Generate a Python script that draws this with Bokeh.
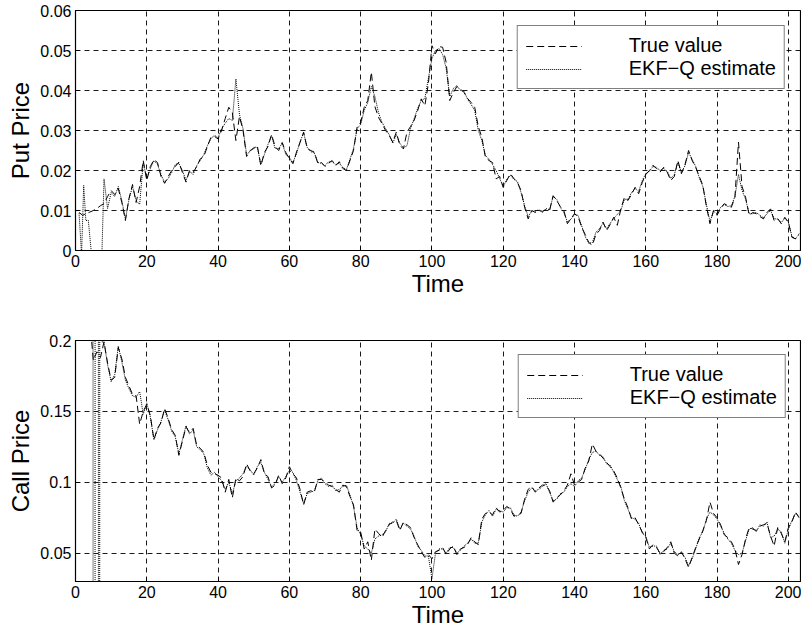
from bokeh.plotting import figure
from bokeh.layouts import column
from bokeh.models import Range1d, FixedTicker, Legend, LegendItem
from bokeh.embed import file_html
from bokeh.resources import INLINE

# ---------------- data ----------------
x_ticks = [0, 20, 40, 60, 80, 100, 120, 140, 160, 180, 200]
x_tick_labels = ["0", "20", "40", "60", "80", "100", "120", "140", "160", "180", "200"]
put_ticks = [0, 0.01, 0.02, 0.03, 0.04, 0.05, 0.06]
put_tick_labels = ["0", "0.01", "0.02", "0.03", "0.04", "0.05", "0.06"]
call_ticks = [0.05, 0.1, 0.15, 0.2]
call_tick_labels = ["0.05", "0.1", "0.15", "0.2"]
series_names = ["True value", "EKF\u2212Q estimate"]

put_true = [
    0.0095, 0.0088, 0.0092, 0.0096, 0.0100, 0.0105, 0.0112, 0.0117, 0.0135, 0.0150,
    0.0140, 0.0155, 0.0120, 0.0075, 0.0130, 0.0165, 0.0120, 0.0160, 0.0225, 0.0175,
    0.0210, 0.0227, 0.0220, 0.0185, 0.0168, 0.0185, 0.0200, 0.0210, 0.0221, 0.0195,
    0.0171, 0.0200, 0.0195, 0.0210, 0.0229, 0.0235, 0.0260, 0.0283, 0.0285, 0.0279,
    0.0300, 0.0330, 0.0358, 0.0345, 0.0275, 0.0335, 0.0300, 0.0235, 0.0250, 0.0255,
    0.0262, 0.0212, 0.0245, 0.0260, 0.0290, 0.0260, 0.0250, 0.0270, 0.0245, 0.0230,
    0.0217, 0.0246, 0.0270, 0.0296, 0.0255, 0.0250, 0.0246, 0.0217, 0.0220, 0.0210,
    0.0218, 0.0225, 0.0212, 0.0222, 0.0205, 0.0200, 0.0225, 0.0250, 0.0308, 0.0320,
    0.0358, 0.0375, 0.0446, 0.0360, 0.0333, 0.0317, 0.0300, 0.0288, 0.0271, 0.0296,
    0.0263, 0.0254, 0.0296, 0.0310, 0.0325, 0.0350, 0.0379, 0.0362, 0.0417, 0.0512,
    0.0492, 0.0510, 0.0508, 0.0470, 0.0375, 0.0395, 0.0410, 0.0404, 0.0395, 0.0380,
    0.0370, 0.0358, 0.0310, 0.0283, 0.0233, 0.0225, 0.0220, 0.0179, 0.0185, 0.0158,
    0.0175, 0.0192, 0.0180, 0.0170, 0.0150, 0.0108, 0.0079, 0.0100, 0.0095, 0.0100,
    0.0098, 0.0102, 0.0100, 0.0137, 0.0125, 0.0110, 0.0100, 0.0067, 0.0080, 0.0092,
    0.0085, 0.0058, 0.0040, 0.0020, 0.0013, 0.0040, 0.0050, 0.0071, 0.0050, 0.0065,
    0.0083, 0.0063, 0.0104, 0.0133, 0.0125, 0.0140, 0.0158, 0.0142, 0.0170, 0.0190,
    0.0200, 0.0213, 0.0205, 0.0196, 0.0208, 0.0196, 0.0175, 0.0185, 0.0225, 0.0192,
    0.0215, 0.0250, 0.0225, 0.0208, 0.0185, 0.0163, 0.0110, 0.0067, 0.0100, 0.0088,
    0.0105, 0.0117, 0.0112, 0.0108, 0.0133, 0.0271, 0.0160, 0.0133, 0.0088, 0.0095,
    0.0092, 0.0085, 0.0079, 0.0095, 0.0104, 0.0075, 0.0080, 0.0067, 0.0083, 0.0070,
    0.0033, 0.0029, 0.0042,
]

# estimate: first few (irregular) samples, then one per time step from t = 9
put_est_early_t = [1, 1.7, 2.3, 2.9, 3.6, 4.5, 7.4, 8]
put_est_early = [0.0093, -0.001, 0.0163, 0.0075, 0.0075, -0.001, -0.001, 0.0179]
put_est_rest = [
    0.0105, 0.0145, 0.0135, 0.0160, 0.0125, 0.0078, 0.0128, 0.0160, 0.0125, 0.0115,
    0.0220, 0.0180, 0.0205, 0.0225, 0.0215, 0.0190, 0.0170, 0.0180, 0.0195, 0.0215,
    0.0218, 0.0200, 0.0175, 0.0198, 0.0190, 0.0212, 0.0225, 0.0240, 0.0262, 0.0280,
    0.0288, 0.0282, 0.0305, 0.0318, 0.0330, 0.0325, 0.0429, 0.0340, 0.0305, 0.0240,
    0.0248, 0.0258, 0.0258, 0.0215, 0.0240, 0.0265, 0.0287, 0.0255, 0.0255, 0.0268,
    0.0240, 0.0232, 0.0220, 0.0242, 0.0272, 0.0294, 0.0258, 0.0247, 0.0244, 0.0220,
    0.0218, 0.0212, 0.0222, 0.0222, 0.0215, 0.0218, 0.0208, 0.0202, 0.0228, 0.0255,
    0.0305, 0.0315, 0.0350, 0.0370, 0.0410, 0.0385, 0.0345, 0.0320, 0.0305, 0.0290,
    0.0268, 0.0290, 0.0268, 0.0256, 0.0262, 0.0305, 0.0330, 0.0355, 0.0375, 0.0380,
    0.0430, 0.0480, 0.0500, 0.0505, 0.0490, 0.0455, 0.0385, 0.0405, 0.0412, 0.0400,
    0.0398, 0.0378, 0.0365, 0.0350, 0.0300, 0.0275, 0.0238, 0.0228, 0.0215, 0.0200,
    0.0180, 0.0160, 0.0178, 0.0188, 0.0178, 0.0172, 0.0145, 0.0112, 0.0085, 0.0098,
    0.0098, 0.0102, 0.0095, 0.0105, 0.0102, 0.0135, 0.0128, 0.0108, 0.0095, 0.0072,
    0.0078, 0.0090, 0.0088, 0.0062, 0.0035, 0.0018, 0.0020, 0.0045, 0.0055, 0.0068,
    0.0055, 0.0068, 0.0080, 0.0090, 0.0100, 0.0128, 0.0128, 0.0145, 0.0155, 0.0148,
    0.0175, 0.0192, 0.0198, 0.0210, 0.0208, 0.0200, 0.0205, 0.0198, 0.0180, 0.0190,
    0.0220, 0.0195, 0.0212, 0.0245, 0.0228, 0.0210, 0.0182, 0.0160, 0.0115, 0.0072,
    0.0098, 0.0092, 0.0108, 0.0115, 0.0110, 0.0112, 0.0135, 0.0190, 0.0150, 0.0128,
    0.0092, 0.0092, 0.0095, 0.0088, 0.0082, 0.0092, 0.0100, 0.0080, 0.0078, 0.0070,
    0.0080, 0.0072, 0.0035, 0.0030, 0.0040,
]

call_true = [
    0.230, 0.225, 0.228, 0.215, 0.186, 0.192, 0.188, 0.199, 0.184, 0.172,
    0.174, 0.195, 0.187, 0.174, 0.168, 0.162, 0.161, 0.141, 0.150, 0.155,
    0.147, 0.130, 0.138, 0.142, 0.152, 0.145, 0.137, 0.133, 0.119, 0.129,
    0.139, 0.135, 0.138, 0.126, 0.124, 0.121, 0.112, 0.107, 0.106, 0.105,
    0.103, 0.093, 0.102, 0.089, 0.103, 0.101, 0.104, 0.113, 0.108, 0.106,
    0.110, 0.116, 0.106, 0.104, 0.096, 0.098, 0.105, 0.099, 0.103, 0.111,
    0.106, 0.103, 0.095, 0.084, 0.093, 0.094, 0.093, 0.102, 0.102, 0.100,
    0.098, 0.097, 0.095, 0.093, 0.098, 0.097, 0.090, 0.084, 0.066, 0.065,
    0.053, 0.058, 0.045, 0.067, 0.064, 0.061, 0.066, 0.070, 0.072, 0.073,
    0.066, 0.072, 0.070, 0.068, 0.061, 0.056, 0.051, 0.047, 0.049, 0.046,
    0.051, 0.052, 0.054, 0.049, 0.053, 0.055, 0.049, 0.053, 0.054, 0.056,
    0.061, 0.058, 0.056, 0.074, 0.078, 0.079, 0.077, 0.082, 0.079, 0.080,
    0.083, 0.081, 0.076, 0.077, 0.078, 0.088, 0.095, 0.097, 0.093, 0.096,
    0.098, 0.098, 0.094, 0.086, 0.089, 0.091, 0.094, 0.098, 0.106, 0.098,
    0.100, 0.102, 0.110, 0.115, 0.127, 0.122, 0.120, 0.117, 0.114, 0.111,
    0.108, 0.103, 0.096, 0.088, 0.082, 0.074, 0.075, 0.070, 0.065, 0.061,
    0.053, 0.056, 0.054, 0.050, 0.051, 0.054, 0.058, 0.050, 0.048, 0.051,
    0.046, 0.040, 0.047, 0.054, 0.060, 0.066, 0.073, 0.086, 0.078, 0.075,
    0.070, 0.063, 0.061, 0.058, 0.053, 0.042, 0.049, 0.060, 0.068, 0.067,
    0.066, 0.069, 0.070, 0.071, 0.062, 0.055, 0.068, 0.064, 0.058, 0.068,
    0.072, 0.079, 0.075,
]

# estimate: irregular samples around the early divergence, then one per step from t = 8
call_est_early_t = [1, 4.9, 4.96, 5.46, 5.52, 6.4, 6.45, 6.77, 6.82, 7.4]
call_est_early = [0.60, 0.60, -0.50, -0.50, 0.60, 0.60, -0.50, -0.50, 0.60, 0.199]
call_est_rest = [
    0.199, 0.183, 0.171, 0.176, 0.196, 0.185, 0.172, 0.166, 0.161, 0.160,
    0.164, 0.148, 0.156, 0.146, 0.130, 0.137, 0.143, 0.151, 0.144, 0.136,
    0.132, 0.120, 0.130, 0.140, 0.134, 0.137, 0.125, 0.123, 0.120, 0.110,
    0.105, 0.107, 0.104, 0.101, 0.095, 0.100, 0.092, 0.101, 0.103, 0.106,
    0.111, 0.109, 0.105, 0.111, 0.114, 0.107, 0.102, 0.097, 0.099, 0.104,
    0.100, 0.104, 0.108, 0.107, 0.101, 0.093, 0.085, 0.092, 0.093, 0.094,
    0.101, 0.103, 0.099, 0.097, 0.098, 0.094, 0.095, 0.097, 0.098, 0.091,
    0.083, 0.068, 0.063, 0.055, 0.053, 0.050, 0.060, 0.062, 0.063, 0.065,
    0.071, 0.071, 0.074, 0.067, 0.071, 0.069, 0.067, 0.062, 0.055, 0.052,
    0.048, 0.048, 0.032, 0.050, 0.053, 0.053, 0.050, 0.054, 0.054, 0.050,
    0.052, 0.055, 0.057, 0.060, 0.057, 0.057, 0.072, 0.077, 0.080, 0.076,
    0.081, 0.080, 0.079, 0.082, 0.082, 0.077, 0.076, 0.079, 0.087, 0.093,
    0.096, 0.094, 0.095, 0.097, 0.099, 0.093, 0.087, 0.088, 0.092, 0.093,
    0.097, 0.099, 0.097, 0.101, 0.103, 0.109, 0.116, 0.121, 0.122, 0.119,
    0.118, 0.113, 0.112, 0.107, 0.102, 0.097, 0.087, 0.081, 0.075, 0.074,
    0.071, 0.064, 0.062, 0.054, 0.055, 0.055, 0.049, 0.052, 0.053, 0.057,
    0.051, 0.049, 0.050, 0.047, 0.041, 0.046, 0.053, 0.061, 0.065, 0.074,
    0.079, 0.077, 0.074, 0.069, 0.064, 0.060, 0.057, 0.052, 0.049, 0.050,
    0.059, 0.067, 0.068, 0.065, 0.070, 0.069, 0.072, 0.061, 0.062, 0.067,
    0.065, 0.057, 0.067, 0.073, 0.078, 0.076,
]

put_t = list(range(1, len(put_true) + 1))
put_est_t = put_est_early_t + list(range(9, 9 + len(put_est_rest)))
put_est = put_est_early + put_est_rest
call_t = list(range(1, len(call_true) + 1))
call_est_t = call_est_early_t + list(range(8, 8 + len(call_est_rest)))
call_est = call_est_early + call_est_rest

FONT = "Liberation Sans"


def make_panel(ylabel, t_true, v_true, t_est, v_est, y_lo, y_hi, yticks, ylabels,
               top_border, bottom_border, frame_h, leg_margin):
    p = figure(width=801, frame_width=725, frame_height=frame_h,
               min_border_left=75, min_border_right=1,
               min_border_top=top_border, min_border_bottom=bottom_border,
               x_range=Range1d(0, 203.4), y_range=Range1d(y_lo, y_hi),
               output_backend="svg", toolbar_location=None)
    p.background_fill_color = "white"
    p.border_fill_color = "white"
    p.outline_line_color = "black"
    p.outline_line_width = 1.2

    for g in (p.xgrid[0], p.ygrid[0]):
        g.grid_line_color = "black"
        g.grid_line_dash = "5 4"
        g.grid_line_width = 0.9
    p.xgrid[0].ticker = FixedTicker(ticks=x_ticks)
    p.ygrid[0].ticker = FixedTicker(ticks=yticks)

    xa = p.xaxis[0]
    xa.ticker = FixedTicker(ticks=x_ticks)
    xa.major_label_overrides = dict(zip(x_ticks, x_tick_labels))
    xa.axis_label = "Time"
    ya = p.yaxis[0]
    ya.ticker = FixedTicker(ticks=yticks)
    ya.major_label_overrides = dict(zip(yticks, ylabels))
    ya.axis_label = ylabel
    for a in (xa, ya):
        a.major_tick_in = 4
        a.major_tick_out = 0
        a.minor_tick_line_color = None
        a.axis_line_color = "black"
        a.major_label_text_font = FONT
        a.major_label_text_font_size = "16px"
        a.major_label_text_color = "black"
        a.axis_label_text_font = FONT
        a.axis_label_text_font_size = "24px"
        a.axis_label_text_font_style = "normal"
        a.axis_label_text_color = "black"
    xa.major_label_standoff = 4
    xa.axis_label_standoff = 0
    ya.major_label_standoff = 4
    ya.axis_label_standoff = 3

    r_true = p.line(t_true, v_true, line_color="black", line_width=1.0, line_dash="7 4")
    r_est = p.line(t_est, v_est, line_color="black", line_width=1.0, line_dash="1 1")

    leg = Legend(items=[LegendItem(label=series_names[0], renderers=[r_true]),
                        LegendItem(label=series_names[1], renderers=[r_est])],
                 location="top_right")
    leg.margin = leg_margin
    leg.padding = 8
    leg.spacing = 0
    leg.glyph_width = 56
    leg.glyph_height = 18
    leg.label_height = 18
    leg.label_standoff = 47
    leg.label_text_font = FONT
    leg.label_text_font_size = "20px"
    leg.label_text_line_height = 1.0
    leg.label_text_color = "black"
    leg.border_line_color = "black"
    leg.border_line_width = 1.2
    leg.background_fill_color = "white"
    leg.background_fill_alpha = 1.0
    p.add_layout(leg)
    return p


p1 = make_panel("Put Price", put_t, put_true, put_est_t, put_est, 0, 0.06,
                put_ticks, put_tick_labels, 10, 70, 240, 15)
p2 = make_panel("Call Price", call_t, call_true, call_est_t, call_est, 0.03, 0.2,
                call_ticks, call_tick_labels, 20, 51, 241, 14)

layout = column(p1, p2, spacing=0)
open("out.html", "w").write(file_html(layout, INLINE))
